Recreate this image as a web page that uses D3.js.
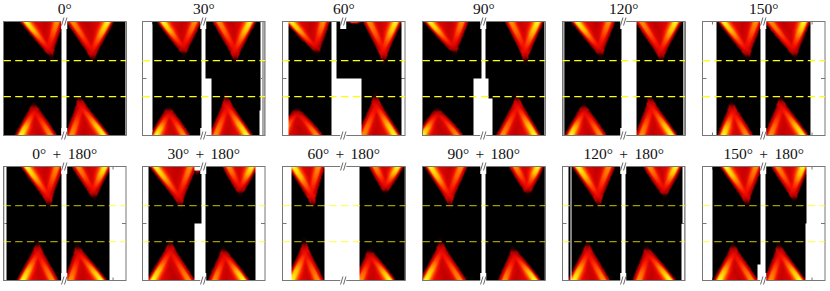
<!DOCTYPE html>
<html>
<head>
<meta charset="utf-8">
<script src="https://d3js.org/d3.v7.min.js"></script>
<style>
body { margin: 0; background: #fff; }
text { font-family: "Liberation Serif", serif; font-size: 15.5px; fill: #111; text-anchor: middle; word-spacing: 2.5px; }
</style>
</head>
<body>
<div id="chart"></div>
<script>
var width = 830, height = 291;

var titles = ["0°","30°","60°","90°","120°","150°",
	"0° + 180°","30° + 180°","60° + 180°","90° + 180°","120° + 180°","150° + 180°"];

// each band: [left foot, apex k, right foot, apex energy]
var topLeft = [[16.3,48,60,22],[14.3,42,59,24.7],[2.3,35.7,47.3,26],[1,32.7,46,26],[8.3,38.7,52.7,23],[15,45.7,60,21],
	[17,46.3,60,18.3],[6.7,38.3,54.3,17.7],[5,30.7,42.3,17.7],[1.7,27.7,45,18.3],[9.3,36.7,52.7,18.3],[17.3,45,60,19.3]];
var topRight = [[63,89.7,111,19],[70.3,93.3,114.3,18],[80.7,101.7,120,17],[82.7,103.3,122,17],[73,99.3,120,18.7],[62,93,108.3,22],
	[68.7,91,108,26],[80.3,98.3,116,30],[86.7,103.3,122,31.7],[87,106,122,30.3],[81,102.7,120,27.7],[69,92.3,107,23.7]];
var bottomLeft = [[11.3,30.3,53.7,-26],[7.7,26,47.7,-30],[-8,14,40.7,-31],[-6,14.3,41,-31],[2,21,44.3,-27],[14.7,29,50.7,-25],
	[13,34.3,55.3,-20],[4,27.7,52.7,-19],[3,22.3,41.7,-18],[-3,18.3,44.3,-18],[5,25,47.7,-20],[10.7,30.7,55.7,-21.7]];
var bottomRight = [[62,76,107,-19],[67,83.7,111,-18],[75,93,119,-17],[74,95,119,-18],[73,87.7,116,-18.7],[62,78,107,-20],
	[61,73.7,104.3,-23],[66,81,107.7,-25.7],[72,87.3,114,-27.3],[76,91,119.3,-25.7],[70.3,84.3,114.3,-24],[62,76.3,104,-21.7]];
var extraBands = [[2,[64,72.3,80.7,54.5]],[7,[51,55,59,49]]];

// places with no data: [k from, k to, energy from, energy to]
var gaps = [
	[[58.7,63,-57,57]],
	[[-1,9.7,-57,57],[59.3,63.7,-57,57],[59.3,69.3,-57,0],[118.3,124,-57,57],[117,124,-57,-32]],
	[[-1,5.7,-57,57],[49,54,0,57],[49,79.7,-57,0],[119,124,-57,57]],
	[[59.3,63.7,0,57],[51.7,66,-20,0],[51.7,70,-57,-20]],
	[[59.3,74.3,-57,57]],
	[[-1,14,-57,57],[58.3,63.3,-57,57],[108.3,124,-57,57]],
	[[-1,3,-57,57],[58.7,63,-57,57],[106,124,-57,57]],
	[[-1,6,-57,57],[59.3,63.7,-57,57],[52.7,63.7,-57,0],[52.7,63.7,52.7,57],[113.7,124,-57,57]],
	[[-1,9.3,-57,57],[42.3,77.7,-57,57]],
	[[59.3,63.3,-57,57]],
	[[-1,5.7,-57,57],[7.7,9.3,-57,57],[59.3,63.7,-57,57],[120.5,124,0,57],[119.7,124,-57,0]],
	[[-1,9.7,-57,57],[58.3,63.3,-57,57],[55.7,63.3,-57,-41],[104.7,124,0,57],[103.7,124,-57,0]]
];

// grey slivers along the frame where a thin column of data is half missing
var leftSliver = [0,0,0,0,2,0,1,0,0,0,0,0];
var rightSliver = [1,3,0,1,2,0,0,0,0,0,1,0];

var dashEnergies = [18,-18];
var tickEnergies = [0];
var tickKs = [10,110];

// how a band looks: heat against distance from its edge, and along its length
var edgeDist = [0,1.5,3,4.5,8,11,15,25];
var edgeHeat = [0,.35,.75,1,.98,.7,.5,.42];
var alongPos = [0,.25,.5,.75,.9,1,1.12];
var outerFade = [1,.9,.68,.52,.38,.14,0];
var innerFade = [.8,.72,.6,.5,.36,.12,0];
var coreFade = [.46,.46,.45,.43,.3,.1,0];

var heatStops = [0,.15,.42,.56,.75,.9,1];
var heatColours = ["#000000","#3a0000","#c40000","#f81000","#ff7a00","#ffc800","#ffff30"];

var panelX = [3.5,142.5,282.5,422.5,562.5,702.5];
var panelY = [21.5,166.5];
var panelW = 122.5, panelH = 114;

var x = d3.scaleLinear().domain([0,123]).range([0,panelW]);
var y = d3.scaleLinear().domain([57,-57]).range([0,panelH]);
var heat = d3.scaleLinear().domain(heatStops).range(heatColours).clamp(true);
var edgeScale = d3.scaleLinear().domain(edgeDist).range(edgeHeat).clamp(true);
var outerScale = d3.scaleLinear().domain(alongPos).range(outerFade).clamp(true);
var innerScale = d3.scaleLinear().domain(alongPos).range(innerFade).clamp(true);
var coreScale = d3.scaleLinear().domain(alongPos).range(coreFade).clamp(true);
// bands that stop far from the guide lines have rounder noses
var roundScale = d3.scaleLinear().domain([18,30]).range([.95,.72]).clamp(true);

function bandHeat(b, outerLeft, k, e) {
	if (e * b[3] <= 0) return 0;
	var s = (57 - Math.abs(e)) / (57 - Math.abs(b[3]));
	if (s > 1.12) return 0;
	var w = Math.pow(1 - Math.min(s, 1), roundScale(Math.abs(b[3])));
	var xl = b[1] - (b[1] - b[0]) * w, xr = b[1] + (b[2] - b[1]) * w;
	// soften the nose of the band past its apex
	var soft = s > .8 ? (s - .8) * 8 : 0;
	var dl = k - xl + soft, dr = xr - k + soft;
	if (dl <= 0 || dr <= 0) return 0;
	var dOut = outerLeft ? dl : dr, dIn = outerLeft ? dr : dl;
	var ramp = edgeScale(Math.min(dl, dr) * 1.2) / .5;
	return Math.max(
		coreScale(s) * Math.min(ramp, 1),
		outerScale(s) * edgeScale(dOut),
		innerScale(s) * edgeScale(dIn)
	);
}

var svg = d3.select("#chart").append("svg")
	.attr("width", width)
	.attr("height", height)
	.style("display", "block");

titles.forEach(function(title, i) {
	var col = i % 6, row = Math.floor(i / 6);
	var g = svg.append("g").attr("transform", "translate(" + panelX[col] + "," + panelY[row] + ")");

	// Ticks go under the image, they only show where data is missing
	tickEnergies.forEach(function(e) {
		g.append("line").attr("class","tick").attr("x1",0).attr("x2",4).attr("y1",y(e)).attr("y2",y(e));
		g.append("line").attr("class","tick").attr("x1",panelW-4).attr("x2",panelW).attr("y1",y(e)).attr("y2",y(e));
	});
	tickKs.forEach(function(k) {
		g.append("line").attr("class","tick").attr("x1",x(k)).attr("x2",x(k)).attr("y1",0).attr("y2",3);
		g.append("line").attr("class","tick").attr("x1",x(k)).attr("x2",x(k)).attr("y1",panelH-3).attr("y2",panelH);
	});

	// The intensity image
	var canvas = document.createElement("canvas");
	canvas.width = Math.ceil(panelW); canvas.height = panelH;
	var ctx = canvas.getContext("2d");
	ctx.fillStyle = "#000";
	ctx.fillRect(0, 0, canvas.width, canvas.height);
	var extras = extraBands.filter(function(d) { return d[0] == i; }).map(function(d) { return d[1]; });
	for (var py = 0; py < panelH; py++) {
		for (var px = 0; px < panelW; px++) {
			var k = x.invert(px + .5), e = y.invert(py + .5);
			var v = Math.max(
				bandHeat(topLeft[i], true, k, e),
				bandHeat(topRight[i], false, k, e),
				bandHeat(bottomLeft[i], true, k, e),
				bandHeat(bottomRight[i], false, k, e)
			);
			extras.forEach(function(b) { v = Math.max(v, bandHeat(b, true, k, e) * .8); });
			if (v > .01) {
				ctx.fillStyle = heat(v);
				ctx.fillRect(px, py, 1, 1);
			}
		}
	}
	gaps[i].forEach(function(d) {
		ctx.clearRect(x(d[0]), y(d[3]), x(d[1]) - x(d[0]), y(d[2]) - y(d[3]));
	});
	g.append("image")
		.attr("href", canvas.toDataURL())
		.attr("width", canvas.width)
		.attr("height", canvas.height);

	if (leftSliver[i]) g.append("rect").attr("class","sliver").attr("width",leftSliver[i]).attr("height",panelH);
	if (rightSliver[i]) g.append("rect").attr("class","sliver").attr("x",panelW-rightSliver[i]).attr("width",rightSliver[i]).attr("height",panelH);

	// Frame
	g.append("rect").attr("class","frame").attr("width",panelW).attr("height",panelH);

	// Axis break
	var bx = x(61);
	[0, panelH].forEach(function(by) {
		g.append("rect").attr("x",bx-3).attr("y",by == 0 ? -1 : panelH-7.5)
			.attr("width",6).attr("height",8.5).attr("fill","#fff");
		[-1.5,1.5].forEach(function(off) {
			g.append("line").attr("class","break")
				.attr("x1",bx+off-1.2).attr("x2",bx+off+1.2)
				.attr("y1",by+4).attr("y2",by-4);
		});
	});

	// Dashed guide lines
	dashEnergies.forEach(function(e) {
		g.append("line")
			.attr("x1",0).attr("x2",panelW)
			.attr("y1",y(e)).attr("y2",y(e))
			.attr("stroke", row == 0 ? "#ffff00" : "rgba(255,255,0,.62)")
			.attr("stroke-width",1.25)
			.attr("stroke-dasharray","7.4 4.3");
	});

	g.append("text").attr("x",panelW/2).attr("y",-7.5).text(title);
});

svg.selectAll(".tick").attr("stroke","#777").attr("stroke-width",1);
svg.selectAll(".sliver").attr("fill","#aaa");
svg.selectAll(".frame").attr("fill","none").attr("stroke","#777").attr("stroke-width",1);
svg.selectAll(".break").attr("stroke","#444").attr("stroke-width",.8);
</script>
</body>
</html>
